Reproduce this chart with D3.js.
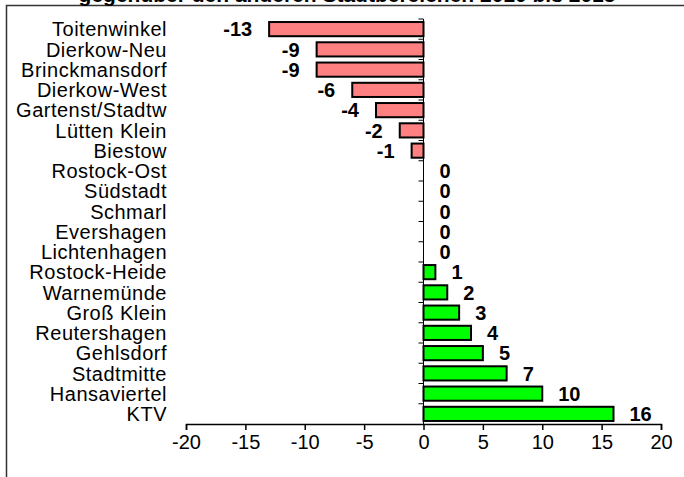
<!DOCTYPE html>
<html>
<head>
<meta charset="utf-8">
<script src="https://cdn.jsdelivr.net/npm/d3@7"></script>
<style>
  body { margin: 0; background: #fff; }
  svg { display: block; font-family: Arial, "Liberation Sans", sans-serif; }
</style>
</head>
<body>
<svg id="chart" width="684" height="477"></svg>
<script>
// Data
var districts = ["Toitenwinkel", "Dierkow-Neu", "Brinckmansdorf", "Dierkow-West", "Gartenst/Stadtw",
  "Lütten Klein", "Biestow", "Rostock-Ost", "Südstadt", "Schmarl", "Evershagen", "Lichtenhagen",
  "Rostock-Heide", "Warnemünde", "Groß Klein", "Reutershagen", "Gehlsdorf", "Stadtmitte",
  "Hansaviertel", "KTV"];
var changes = [-13, -9, -9, -6, -4, -2, -1, 0, 0, 0, 0, 0, 1, 2, 3, 4, 5, 7, 10, 16];
var xTicks = [-20, -15, -10, -5, 0, 5, 10, 15, 20];
var titleText = "gegenüber den anderen Stadtbereichen 2010 bis 2015";

var svg = d3.select("#chart");

var rows = districts.map(function (d, i) { return { name: d, value: changes[i] }; });

var x = d3.scaleLinear().domain([-20, 20]).range([186, 661]);
var y = d3.scaleBand().domain(districts).range([19, 424]).paddingInner(0.3).paddingOuter(0.15);

// frame
svg.append("path")
  .attr("d", "M6.5,477 V5.5 H684")
  .attr("fill", "none")
  .attr("stroke", "#333")
  .attr("stroke-width", 1.5);

// title (cut off at top, as in the source)
svg.append("text")
  .attr("x", 347)
  .attr("y", 2)
  .attr("text-anchor", "middle")
  .style("font-size", "21px")
  .style("font-weight", "bold")
  .text(titleText);

// bars
svg.append("g").selectAll("rect")
  .data(rows).enter().append("rect")
  .attr("x", function (d) { return x(Math.min(0, d.value)); })
  .attr("y", function (d) { return y(d.name); })
  .attr("width", function (d) { return Math.abs(x(d.value) - x(0)); })
  .attr("height", y.bandwidth())
  .attr("fill", function (d) { return d.value < 0 ? "#ff8080" : "#00ff00"; })
  .attr("stroke", "#000")
  .attr("stroke-width", function (d) { return d.value == 0 ? 0 : 2; });

// vertical category axis at zero with ticks between bands
var catAxis = svg.append("g");
catAxis.append("line")
  .attr("x1", x(0)).attr("x2", x(0))
  .attr("y1", 19).attr("y2", 424)
  .attr("stroke", "#000").attr("stroke-width", 1);
catAxis.selectAll("line.tick")
  .data(d3.range(districts.length))
  .enter().append("line")
  .attr("class", "tick")
  .attr("x1", x(0) - 5).attr("x2", x(0))
  .attr("y1", function (i) { return y(districts[i]) - y.step() * 0.15; })
  .attr("y2", function (i) { return y(districts[i]) - y.step() * 0.15; })
  .attr("stroke", "#000").attr("stroke-width", 1);

// category labels
svg.append("g").selectAll("text")
  .data(rows).enter().append("text")
  .attr("x", 167)
  .attr("y", function (d) { return y(d.name) + y.bandwidth() / 2; })
  .attr("dy", "0.36em")
  .attr("text-anchor", "end")
  .style("font-size", "20px")
  .style("letter-spacing", "0.5px")
  .text(function (d) { return d.name; });

// value labels
svg.append("g").selectAll("text")
  .data(rows).enter().append("text")
  .attr("x", function (d) { return d.value < 0 ? x(d.value) - 17 : x(d.value) + 16; })
  .attr("y", function (d) { return y(d.name) + y.bandwidth() / 2; })
  .attr("dy", "0.36em")
  .attr("text-anchor", function (d) { return d.value < 0 ? "end" : "start"; })
  .style("font-size", "20px")
  .style("font-weight", "bold")
  .text(function (d) { return d.value; });

// x axis
var xAxis = svg.append("g")
  .attr("transform", "translate(0,424)")
  .call(d3.axisBottom(x).tickValues(xTicks).tickSize(6).tickPadding(5).tickFormat(d3.format("d")));
xAxis.select(".domain").attr("stroke", "#000").attr("stroke-width", 1.5);
xAxis.selectAll(".tick line").attr("stroke", "#000").attr("stroke-width", 1.5);
xAxis.selectAll(".tick text")
  .style("font-size", "20px")
  .style("font-family", "Arial, 'Liberation Sans', sans-serif")
  .attr("fill", "#000")
  .text(function (d) { return d < 0 ? "-" + Math.abs(d) : d; });
</script>
</body>
</html>
